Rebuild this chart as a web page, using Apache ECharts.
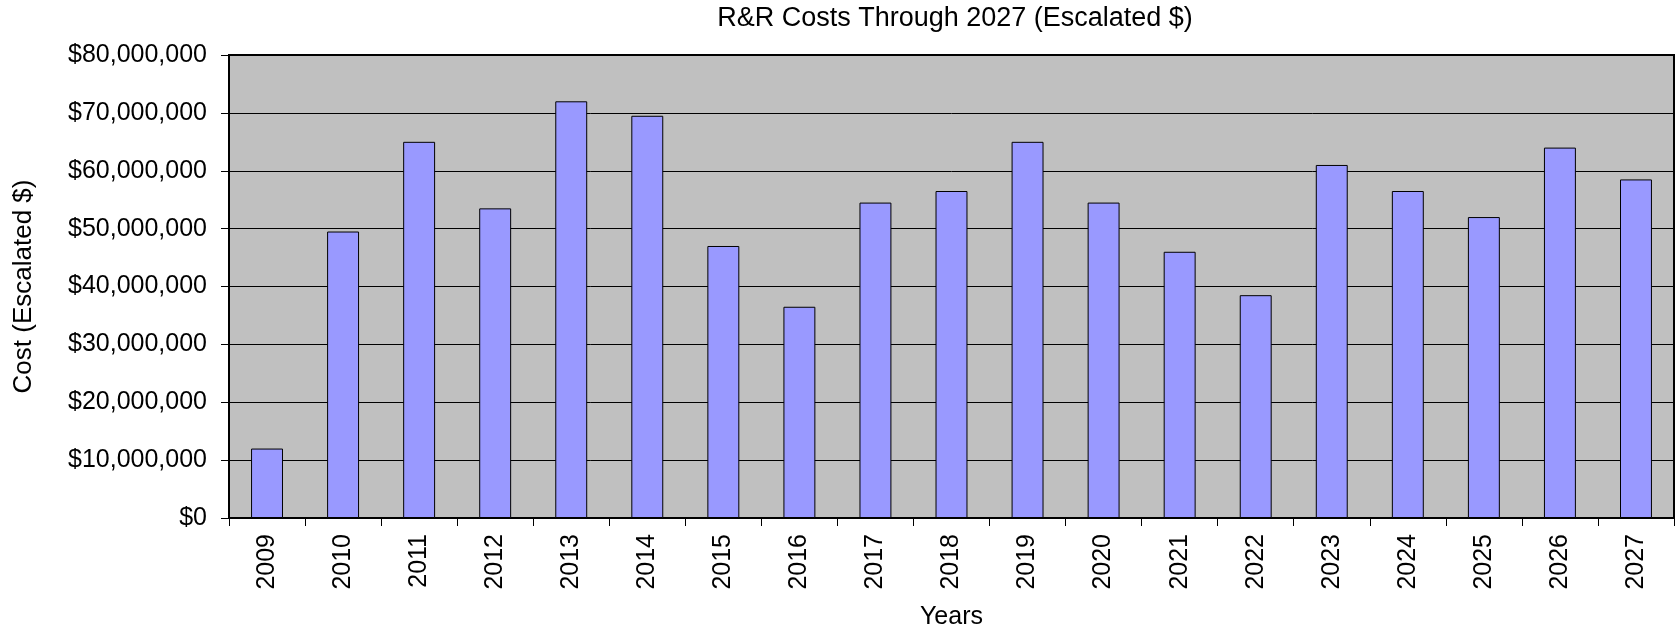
<!DOCTYPE html>
<html>
<head>
<meta charset="utf-8">
<script src="https://cdn.jsdelivr.net/npm/echarts@6/dist/echarts.min.js"></script>
<style>
  html, body { margin: 0; padding: 0; background: #fff; }
  #chart { width: 1677px; height: 636px; }
</style>
</head>
<body>
<div id="chart"></div>
<script>
// data
var years = ['2009', '2010', '2011', '2012', '2013', '2014', '2015', '2016', '2017', '2018',
             '2019', '2020', '2021', '2022', '2023', '2024', '2025', '2026', '2027'];
var costs = [12000000, 49500000, 65000000, 53500000, 72000000, 69500000, 47000000, 36500000, 54500000, 56500000,
             65000000, 54500000, 46000000, 38500000, 61000000, 56500000, 52000000, 64000000, 58500000];

var font = '"Liberation Sans", Arial, Helvetica, sans-serif';

var myChart = echarts.init(document.getElementById('chart'));

var option = {
  animation: false,
  backgroundColor: '#fff',
  title: {
    text: 'R&R Costs Through 2027 (Escalated $)',
    left: 955,
    textAlign: 'center',
    top: 5,
    padding: 0,
    textStyle: { fontFamily: font, fontSize: 27, fontWeight: 'normal', color: '#000' }
  },
  grid: {
    left: 229,
    right: 3,
    top: 55,
    bottom: 118,
    show: true,
    backgroundColor: '#C0C0C0',
    borderColor: '#000',
    borderWidth: 2
  },
  xAxis: {
    type: 'category',
    data: years,
    name: 'Years',
    nameLocation: 'middle',
    nameGap: 87,
    nameTextStyle: { fontFamily: font, fontSize: 25, color: '#000' },
    axisLine: { lineStyle: { color: '#000', width: 2 } },
    axisTick: { show: true, length: 8, lineStyle: { color: '#000', width: 1 } },
    axisLabel: {
      rotate: 90,
      margin: 16,
      fontFamily: font,
      fontSize: 25,
      color: '#000'
    }
  },
  yAxis: {
    type: 'value',
    min: 0,
    max: 80000000,
    interval: 10000000,
    name: 'Cost (Escalated $)',
    nameLocation: 'middle',
    nameGap: 192,
    nameTextStyle: { fontFamily: font, fontSize: 26, color: '#000' },
    axisLine: { show: true, lineStyle: { color: '#000', width: 2 } },
    axisTick: { show: true, length: 8, lineStyle: { color: '#000', width: 1 } },
    splitLine: { show: true, lineStyle: { color: '#000', width: 1 } },
    axisLabel: {
      margin: 22,
      fontFamily: font,
      fontSize: 25,
      color: '#000',
      formatter: function (v) {
        return '$' + v.toLocaleString('en-US');
      }
    }
  },
  series: [
    {
      type: 'bar',
      data: costs,
      barWidth: '42%',
      itemStyle: { color: '#9999FF', borderColor: '#000', borderWidth: 1 }
    }
  ]
};

myChart.setOption(option);
</script>
</body>
</html>
